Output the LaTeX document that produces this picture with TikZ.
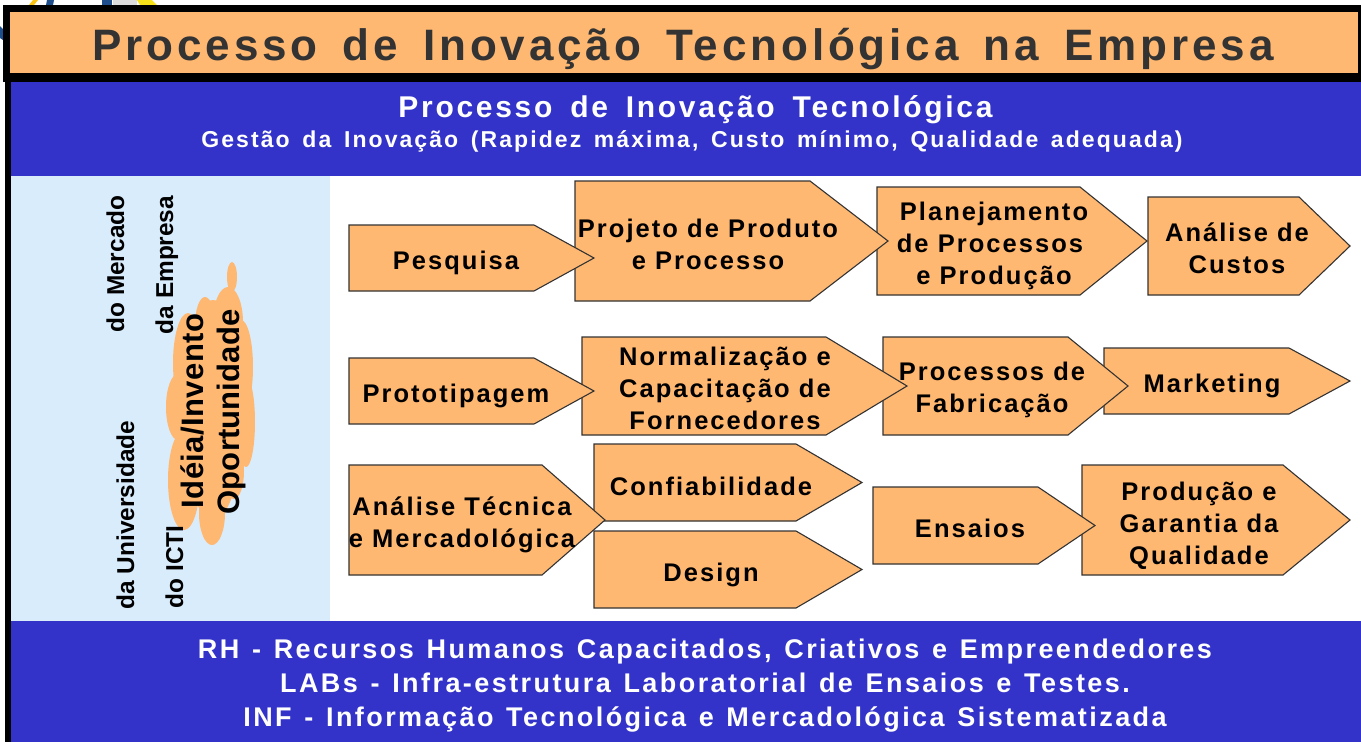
\documentclass[tikz,border=0pt]{standalone}
\usepackage{fontspec}
\setmainfont{Liberation Sans}
\definecolor{boxor}{HTML}{FFB871}
\definecolor{bandblue}{HTML}{3333C9}
\definecolor{panelblue}{HTML}{D9ECFC}
\definecolor{titlegray}{HTML}{333333}
\definecolor{logoblue}{HTML}{1F4E8C}
\definecolor{logoyellow}{HTML}{F8E21A}
\definecolor{logogray}{HTML}{DDDDDD}
\newcommand{\fnt}[4]{\fontsize{#1}{#2}\selectfont\bfseries\addfontfeature{LetterSpace=#3}\spaceskip=#4\fontdimen2\font\relax}
\newcommand{\pent}[6]{\draw[pentbox] (#2,#3) -- (#4,#3) -- (#5,{(#3+#6)/2}) -- (#4,#6) -- (#2,#6) -- cycle;}
\tikzset{
  pentbox/.style={draw=black!80,fill=boxor,line width=1.1pt,line join=miter},
  boxtext/.style={inner sep=0pt,align=center,text=black,font=\fnt{25.5}{32}{8}{1.0}},
  sidetext/.style={inner sep=0pt,rotate=90,anchor=base,text=black,font=\fnt{24.4}{28}{0}{1}},
  bandtext/.style={inner sep=0pt,align=center,text=white},
  blob/.style={fill=boxor,draw=none}
}
\begin{document}
\begin{tikzpicture}[x=1pt,y=-1pt]
\useasboundingbox (0,0) rectangle (1361,742);
\fill[white] (0,0) rectangle (1361,742);
% logo fragments behind the title
\fill[logoyellow!70!orange] (29,5) -- (33,0) -- (38,0) -- (34,5) -- cycle;
\fill[logoblue] (46,5) -- (47,0) -- (54,0) -- (53,5) -- cycle;
\fill[logoblue] (102,0) rectangle (112,5);
\fill[logogray] (113,5) -- (113,0) -- (137,0) -- (137,5) -- cycle;
\fill[logoyellow] (137,0) -- (152,0) -- (157,5) -- (140,5) -- cycle;
\fill[logoblue] (0,26) -- (3,29) -- (3,40) -- (0,38) -- cycle;
% frame
\fill[black] (3,5) rectangle (1361,82);
\fill[black] (5,82) rectangle (11,742);
\fill[boxor] (10,12) rectangle (1358,73);
\fill[bandblue] (11,82) rectangle (1361,176);
\fill[panelblue] (11,176) rectangle (330,621);
\fill[bandblue] (11,621) rectangle (1361,742);
% cloud
\fill[blob] (232,277) ellipse (5 and 15);
\fill[blob] (228,322) ellipse (15 and 35);
\fill[blob] (241,367) ellipse (12 and 47);
\fill[blob] (246,422) ellipse (9 and 45);
\fill[blob] (234,471) ellipse (10 and 28);
\fill[blob] (205,325) ellipse (10 and 28);
\fill[blob] (188,363) ellipse (15 and 50);
\fill[blob] (178,407) ellipse (12 and 33);
\fill[blob] (184,480) ellipse (16 and 50);
\fill[blob] (212,513) ellipse (13 and 32);
\fill[blob] (213,410) ellipse (31 and 110);
% process shapes, right to left so that each tip lies on its neighbour
\pent{custos}{1148}{197}{1299}{1350}{295}
\pent{plan}{877}{187}{1080}{1147}{295}
\pent{projeto}{575}{181}{810}{888}{301}
\pent{pesquisa}{349}{225}{534}{594}{291}
\pent{marketing}{1104}{348}{1289}{1350}{414}
\pent{fabric}{883}{337}{1068}{1128}{435}
\pent{normal}{582}{337}{826}{907}{435}
\pent{proto}{349}{358}{534}{594}{424}
\pent{confiab}{594}{444}{796}{862}{521}
\pent{design}{594}{531}{796}{862}{608}
\pent{analise}{349}{465}{542}{605}{575}
\pent{qualid}{1082}{465}{1283}{1350}{575}
\pent{ensaios}{873}{487}{1038}{1095}{564}
% title and bands
\node[inner sep=0pt,anchor=base,text=titlegray,font=\fnt{44}{50}{8.8}{1.57}] (title) at (683,60) {Processo de Inovação Tecnológica na Empresa};
\node[bandtext,anchor=base,font=\fnt{30}{34}{9}{1.62}] (band1) at (695.5,117) {Processo de Inovação Tecnológica};
\node[bandtext,anchor=base,font=\fnt{23}{28}{9}{1.5}] (band2) at (692,147) {Gestão da Inovação (Rapidez máxima, Custo mínimo, Qualidade adequada)};
\node[bandtext,font=\fnt{27}{33.7}{9}{1.28}] (band3) at (705,685.5) {RH - Recursos Humanos Capacitados, Criativos e Empreendedores\\LABs - Infra-estrutura Laboratorial de Ensaios e Testes.\\INF - Informação Tecnológica e Mercadológica Sistematizada};
% side labels
\node[sidetext] (mercado) at (124,264) {do Mercado};
\node[sidetext] (empresa) at (173,265) {da Empresa};
\node[sidetext] (univ) at (134,515) {da Universidade};
\node[sidetext] (icti) at (183,567) {do ICTI};
\node[sidetext,font=\fnt{31}{35}{1.3}{1}] (ideia) at (203,411) {Idéia/Invento};
\node[sidetext,font=\fnt{31}{35}{0.5}{1}] (oport) at (239,412) {Oportunidade};
% box labels
\node[boxtext] (tpesq) at (456,263) {Pesquisa};
\node[boxtext] (tproj) at (708,244.5) {Projeto de Produto\\e Processo};
\node[boxtext] (tplan) at (994,245.5) {Planejamento\\\hspace*{-8pt}de Processos\\e Produção};
\node[boxtext] (tcust) at (1237,248) {Análise de\\Custos};
\node[boxtext] (tproto) at (456,396) {Prototipagem};
\node[boxtext] (tnorm) at (725,388.5) {Normalização e\\Capacitação de\\Fornecedores};
\node[boxtext] (tfab) at (992,390) {Processos de\\Fabricação};
\node[boxtext] (tmark) at (1212,386) {Marketing};
\node[boxtext] (tanal) at (462,525) {Análise Técnica\\e Mercadológica};
\node[boxtext] (tconf) at (711,486) {Confiabilidade};
\node[boxtext] (tdes) at (711,575) {Design};
\node[boxtext] (tens) at (970,528.5) {Ensaios};
\node[boxtext] (tqual) at (1199,525.5) {Produção e\\Garantia da\\Qualidade};
\end{tikzpicture}
\end{document}
